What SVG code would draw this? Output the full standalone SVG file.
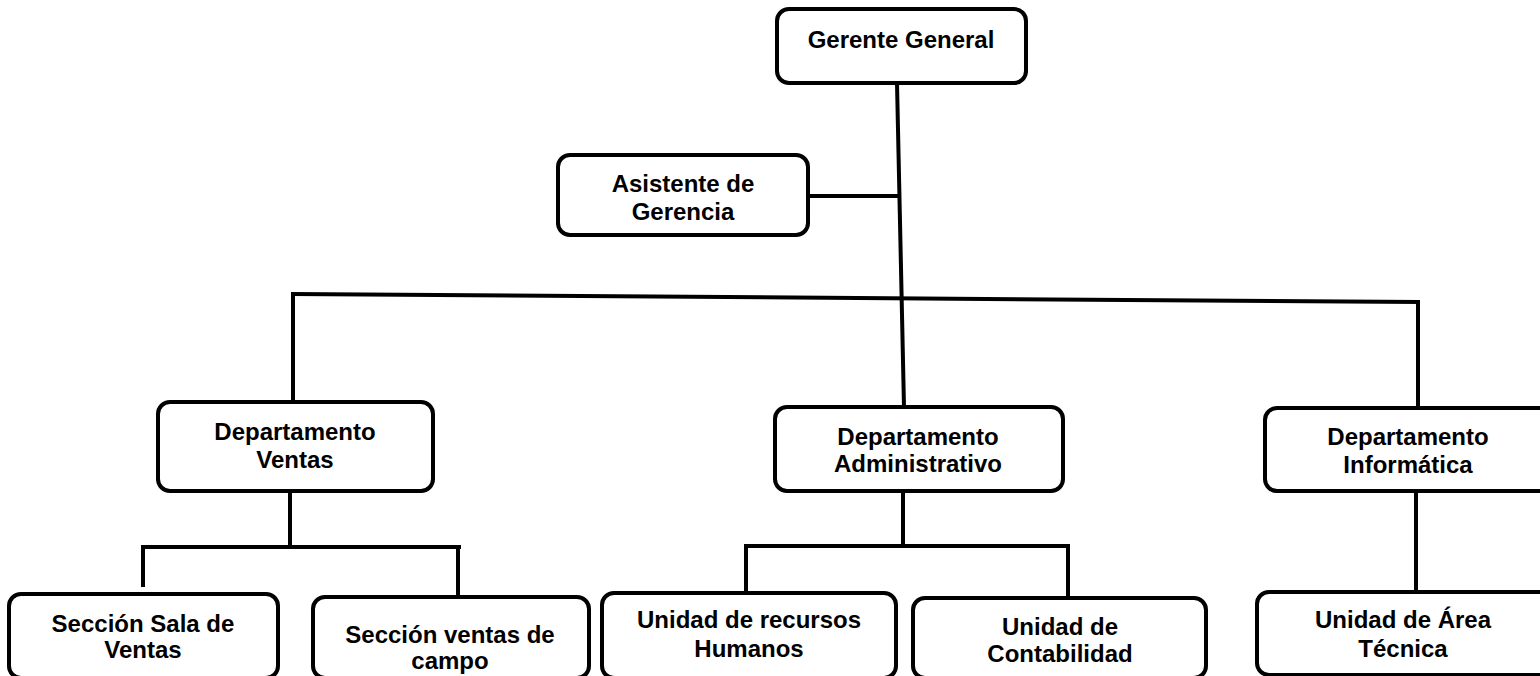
<svg xmlns="http://www.w3.org/2000/svg" width="1540" height="676" viewBox="0 0 1540 676">
<style>
.box{fill:#fff;stroke:#000;stroke-width:4}
.t{font-family:"Liberation Sans",Arial,sans-serif;font-weight:bold;font-size:24px;fill:#000;text-anchor:middle}
.c{stroke:#000;stroke-width:4;fill:none;stroke-linecap:butt}
</style>
<rect width="1540" height="676" fill="#fff"/>
<g id="connectors">
<line class="c" x1="897" y1="83" x2="904" y2="407"/>
<line class="c" x1="808" y1="196" x2="898" y2="196"/>
<line class="c" x1="291" y1="294" x2="1420" y2="302"/>
<line class="c" x1="293" y1="293" x2="293" y2="402"/>
<line class="c" x1="1418" y1="300" x2="1418" y2="408"/>
<line class="c" x1="290" y1="491" x2="290" y2="548"/>
<line class="c" x1="141" y1="547" x2="461" y2="547"/>
<line class="c" x1="143" y1="545" x2="143" y2="587"/>
<line class="c" x1="458" y1="545" x2="458" y2="597"/>
<line class="c" x1="903" y1="491" x2="903" y2="548"/>
<line class="c" x1="744" y1="546" x2="1070" y2="546"/>
<line class="c" x1="746" y1="544" x2="746" y2="599"/>
<line class="c" x1="1068" y1="544" x2="1068" y2="598"/>
<line class="c" x1="1416" y1="488" x2="1416" y2="592"/>
</g>
<g id="gerente">
<rect class="box" x="777" y="9" width="249" height="74" rx="12"/>
<text class="t" x="901" y="48">Gerente General</text>
</g>
<g id="asistente">
<rect class="box" x="558" y="155" width="250" height="80" rx="12"/>
<text class="t" x="683" y="192">Asistente de</text>
<text class="t" x="683" y="220">Gerencia</text>
</g>
<g id="ventas">
<rect class="box" x="158" y="402" width="275" height="89" rx="12"/>
<text class="t" x="295" y="440">Departamento</text>
<text class="t" x="295" y="468">Ventas</text>
</g>
<g id="administrativo">
<rect class="box" x="775" y="407" width="288" height="84" rx="12"/>
<text class="t" x="918" y="445">Departamento</text>
<text class="t" x="918" y="472">Administrativo</text>
</g>
<g id="informatica">
<rect class="box" x="1265" y="408" width="290" height="83" rx="12"/>
<text class="t" x="1408" y="445">Departamento</text>
<text class="t" x="1408" y="473">Informática</text>
</g>
<g id="sala">
<rect class="box" x="9" y="594" width="269" height="84" rx="12"/>
<text class="t" x="143" y="632">Sección Sala de</text>
<text class="t" x="143" y="658">Ventas</text>
</g>
<g id="campo">
<rect class="box" x="313" y="597" width="276" height="81" rx="12"/>
<text class="t" x="450" y="643">Sección ventas de</text>
<text class="t" x="450" y="669">campo</text>
</g>
<g id="rrhh">
<rect class="box" x="602" y="593" width="294" height="85" rx="12"/>
<text class="t" x="749" y="628">Unidad de recursos</text>
<text class="t" x="749" y="657">Humanos</text>
</g>
<g id="contabilidad">
<rect class="box" x="913" y="598" width="293" height="80" rx="12"/>
<text class="t" x="1060" y="635">Unidad de</text>
<text class="t" x="1060" y="662">Contabilidad</text>
</g>
<g id="tecnica">
<rect class="box" x="1257" y="592" width="298" height="83" rx="12"/>
<text class="t" x="1403" y="628">Unidad de Área</text>
<text class="t" x="1403" y="657">Técnica</text>
</g>
</svg>
